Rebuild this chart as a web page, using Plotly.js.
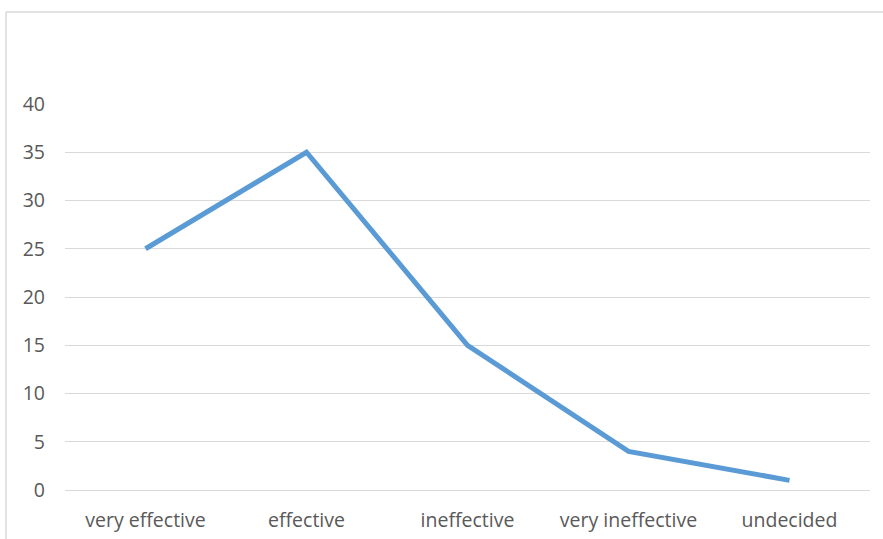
<!DOCTYPE html>
<html>
<head>
<meta charset="utf-8">
<script src="https://cdn.plot.ly/plotly-3.0.1.min.js"></script>
<style>
  html, body { margin: 0; padding: 0; background: #fff; }
  #chart { width: 883px; height: 539px; }
</style>
</head>
<body>
<div id="chart"></div>
<script>
// Responses per rating
const categories = ["very effective", "effective", "ineffective", "very ineffective", "undecided"];
const counts = [25, 35, 15, 4, 1];
const yTicks = [0, 5, 10, 15, 20, 25, 30, 35, 40];

const W = 883, H = 539;
const margin = { l: 65, r: 13, t: 104, b: 49 };
const plotW = W - margin.l - margin.r;
const plotH = H - margin.t - margin.b;

// convert a pixel position into paper coordinates for the outer frame
const px = x => (x - margin.l) / plotW;
const py = y => (H - margin.b - y) / plotH;

const labelFont = { family: "Open Sans, Liberation Sans, sans-serif", size: 19.5, color: "#595959" };

const trace = {
  type: "scatter",
  mode: "lines",
  x: categories,
  y: counts,
  line: { color: "#5B9BD5", width: 5 },
  hoverinfo: "x+y"
};

const layout = {
  width: W,
  height: H,
  margin: margin,
  paper_bgcolor: "#ffffff",
  plot_bgcolor: "#ffffff",
  showlegend: false,
  font: labelFont,
  xaxis: {
    type: "category",
    range: [-0.5, categories.length - 0.5],
    showgrid: false,
    zeroline: false,
    showline: false,
    ticks: "",
    ticklabelstandoff: 16,
    tickfont: labelFont,
    fixedrange: true
  },
  yaxis: {
    range: [0, 40],
    tickvals: yTicks,
    ticktext: yTicks.map(String),
    showgrid: true,
    gridcolor: "#D9D9D9",
    gridwidth: 1,
    zeroline: true,
    zerolinecolor: "#D9D9D9",
    zerolinewidth: 1,
    showline: false,
    ticks: "",
    ticklabelstandoff: 19,
    tickfont: labelFont,
    fixedrange: true
  },
  shapes: [
    { type: "line", xref: "paper", yref: "paper", x0: px(6), x1: px(6), y0: py(12), y1: py(H + 2),
      line: { color: "#D9D9D9", width: 1.5 } },
    { type: "line", xref: "paper", yref: "paper", x0: px(6), x1: px(W + 2), y0: py(12), y1: py(12),
      line: { color: "#D9D9D9", width: 1.5 } }
  ]
};

Plotly.newPlot("chart", [trace], layout, { displayModeBar: false, staticPlot: true });
</script>
</body>
</html>
